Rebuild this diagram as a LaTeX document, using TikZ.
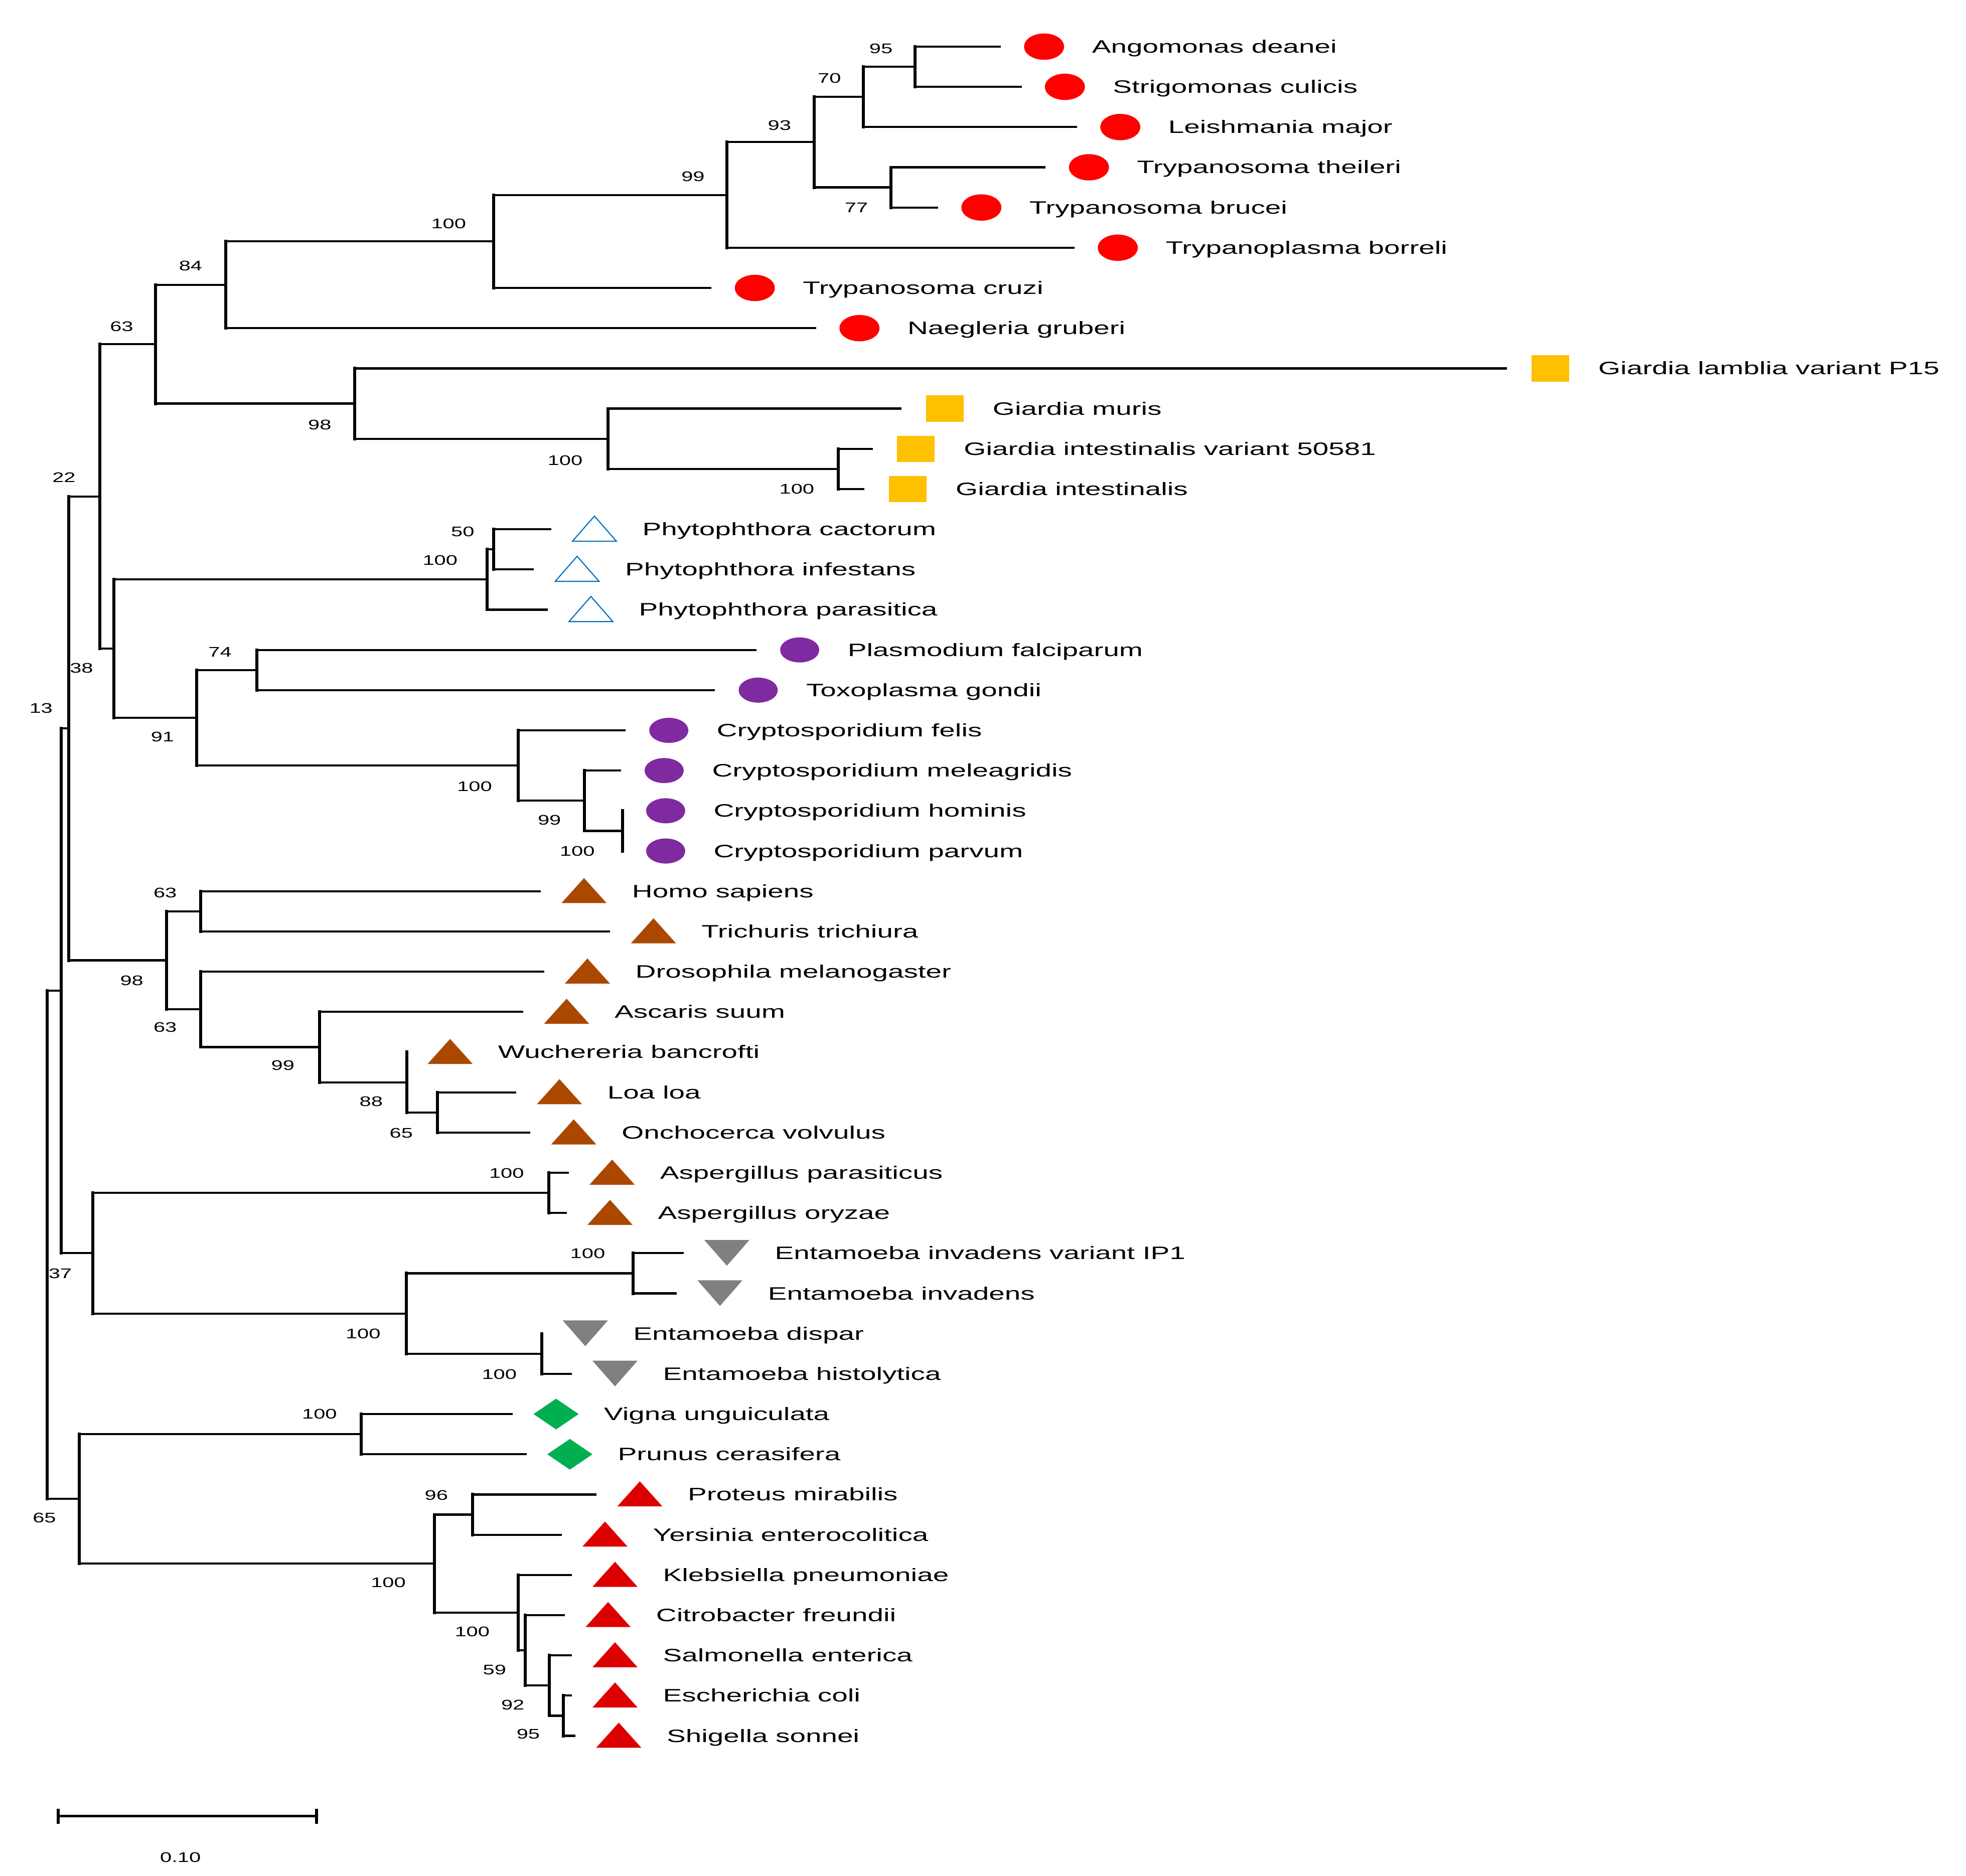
\documentclass[tikz,border=0pt]{standalone}
\usepackage{fontspec}
\setmainfont{Liberation Sans}[FakeStretch=1.58]
\newfontfamily\bsfont{Liberation Sans}[FakeStretch=1.5]
\definecolor{cRed}{HTML}{FF0000}
\definecolor{cYel}{HTML}{FFC000}
\definecolor{cBlu}{HTML}{0070C0}
\definecolor{cPur}{HTML}{7F2AA0}
\definecolor{cBrn}{HTML}{AA4800}
\definecolor{cGry}{HTML}{808080}
\definecolor{cGrn}{HTML}{00B050}
\definecolor{cBac}{HTML}{DD0000}
\tikzset{
 hb/.style={line width=0.42mm, line cap=butt},
 vb/.style={line width=0.6mm, line cap=rect},
 lab/.style={anchor=base west, inner sep=0pt, font=\fontsize{10.2}{12}\selectfont},
 bs/.style={inner sep=0pt, font=\bsfont\fontsize{7.9}{9}\selectfont},
 redc/.pic={\fill[cRed] (0,0) ellipse [x radius=4mm, y radius=2.625mm];},
 purc/.pic={\fill[cPur] (0,0) ellipse [x radius=3.9mm, y radius=2.5mm];},
 yelsq/.pic={\fill[cYel] (-15,-10.5) rectangle (15,10.5);},
 otri/.pic={\draw[cBlu, line width=0.22mm, line join=miter] (-17.5,9.5) -- (17.5,9.5) -- (0,-10.5) -- cycle;},
 brtri/.pic={\fill[cBrn] (-18,9.5) -- (18,9.5) -- (0,-10.5) -- cycle;},
 rdtri/.pic={\fill[cBac] (-18,9.5) -- (18,9.5) -- (0,-10.5) -- cycle;},
 gytri/.pic={\fill[cGry] (-18,-10.5) -- (18,-10.5) -- (0,10) -- cycle;},
 grdia/.pic={\fill[cGrn] (-18,0) -- (0,-12.25) -- (18,0) -- (0,12.25) -- cycle;},
}
\newcommand\leaf[4]{%
 \coordinate (t#1) at (#2,{37.2+32.08*#1});
 \pic at ([xshift=8.625mm]t#1) {#3};
 \node[lab] (l#1) at ([xshift=18.125mm,yshift=-1.25mm]t#1) {#4};}
\newcommand\brn[2]{\draw[vb] (#1) -- (#1|-#2); \draw[hb] (#1|-#2) -- (#2);}
\begin{document}
\begin{tikzpicture}[x=0.25mm,y=-0.25mm]
\useasboundingbox (0,0) rectangle (1568,1496);
% leaves
\leaf{0}{798.2}{redc}{Angomonas deanei}
\leaf{1}{814.8}{redc}{Strigomonas culicis}
\leaf{2}{859}{redc}{Leishmania major}
\leaf{3}{834}{redc}{Trypanosoma theileri}
\leaf{4}{748.2}{redc}{Trypanosoma brucei}
\leaf{5}{857}{redc}{Trypanoplasma borreli}
\leaf{6}{567.5}{redc}{Trypanosoma cruzi}
\leaf{7}{651}{redc}{Naegleria gruberi}
\leaf{8}{1202}{yelsq}{Giardia lamblia variant P15}
\leaf{9}{719}{yelsq}{Giardia muris}
\leaf{10}{696}{yelsq}{Giardia intestinalis variant 50581}
\leaf{11}{689.5}{yelsq}{Giardia intestinalis}
\leaf{12}{439.6}{otri}{Phytophthora cactorum}
\leaf{13}{425.8}{otri}{Phytophthora infestans}
\leaf{14}{436.8}{otri}{Phytophthora parasitica}
\leaf{15}{603.3}{purc}{Plasmodium falciparum}
\leaf{16}{570.2}{purc}{Toxoplasma gondii}
\leaf{17}{498.9}{purc}{Cryptosporidium felis}
\leaf{18}{495.2}{purc}{Cryptosporidium meleagridis}
\leaf{19}{496.4}{purc}{Cryptosporidium hominis}
\leaf{20}{496.4}{purc}{Cryptosporidium parvum}
\leaf{21}{431.3}{brtri}{Homo sapiens}
\leaf{22}{486.7}{brtri}{Trichuris trichiura}
\leaf{23}{434}{brtri}{Drosophila melanogaster}
\leaf{24}{417.4}{brtri}{Ascaris suum}
\leaf{25}{324.5}{brtri}{Wuchereria bancrofti}
\leaf{26}{411.7}{brtri}{Loa loa}
\leaf{27}{423.1}{brtri}{Onchocerca volvulus}
\leaf{28}{453.7}{brtri}{Aspergillus parasiticus}
\leaf{29}{452}{brtri}{Aspergillus oryzae}
\leaf{30}{545.2}{gytri}{Entamoeba invadens variant IP1}
\leaf{31}{539.7}{gytri}{Entamoeba invadens}
\leaf{32}{432.3}{gytri}{Entamoeba dispar}
\leaf{33}{456}{gytri}{Entamoeba histolytica}
\leaf{34}{409}{grdia}{Vigna unguiculata}
\leaf{35}{420}{grdia}{Prunus cerasifera}
\leaf{36}{475.8}{rdtri}{Proteus mirabilis}
\leaf{37}{448}{rdtri}{Yersinia enterocolitica}
\leaf{38}{456}{rdtri}{Klebsiella pneumoniae}
\leaf{39}{450.5}{rdtri}{Citrobacter freundii}
\leaf{40}{456}{rdtri}{Salmonella enterica}
\leaf{41}{456}{rdtri}{Escherichia coli}
\leaf{42}{459}{rdtri}{Shigella sonnei}
% internal nodes
\coordinate (n95) at (729.8,53.24);
\coordinate (n70) at (688.4,77.3);
\coordinate (n77) at (710.7,149.48);
\coordinate (n93) at (649.4,113.39);
\coordinate (n99a) at (579.8,155.5);
\coordinate (n100a) at (393.5,192.59);
\coordinate (n84) at (180,227.18);
\coordinate (n100g2) at (668.7,374.04);
\coordinate (n100g1) at (484.9,349.98);
\coordinate (n98g) at (282.7,321.91);
\coordinate (n63a) at (124,274.55);
\coordinate (n50) at (393.5,438.2);
\coordinate (n100p) at (388.4,462.26);
\coordinate (n74) at (204.7,534.44);
\coordinate (n100c3) at (496.4,662.76);
\coordinate (n99c) at (466.1,638.7);
\coordinate (n100c) at (413.4,610.63);
\coordinate (n91) at (157,572.54);
\coordinate (n38) at (90.8,517.4);
\coordinate (n22) at (79.6,395.98);
\coordinate (n63h) at (160,726.92);
\coordinate (n65o) at (348.7,887.32);
\coordinate (n88) at (324.5,863.26);
\coordinate (n99n) at (255,835.19);
\coordinate (n63d) at (160,805.12);
\coordinate (n98m) at (132.7,766.02);
\coordinate (ntop) at (54.7,581.0);
\coordinate (n100asp) at (437.9,951.48);
\coordinate (n100e1) at (504.8,1015.64);
\coordinate (n100e2) at (432.3,1079.8);
\coordinate (n100e) at (324.1,1047.72);
\coordinate (n37) at (74,999.6);
\coordinate (n13) at (49,790.3);
\coordinate (n100v) at (288,1143.96);
\coordinate (n96) at (376.7,1208.12);
\coordinate (n95b) at (449.5,1368.52);
\coordinate (n92) at (438.3,1344.46);
\coordinate (n59) at (418.9,1316.39);
\coordinate (n100b2) at (413.2,1286.32);
\coordinate (n100b) at (346.5,1247.22);
\coordinate (n65) at (63.3,1195.59);
\coordinate (root) at (37.8,992.95);
% connectors
\brn{n95}{t0} \brn{n95}{t1}
\brn{n70}{n95} \brn{n70}{t2}
\brn{n77}{t3} \brn{n77}{t4}
\brn{n93}{n70} \brn{n93}{n77}
\brn{n99a}{n93} \brn{n99a}{t5}
\brn{n100a}{n99a} \brn{n100a}{t6}
\brn{n84}{n100a} \brn{n84}{t7}
\brn{n100g2}{t10} \brn{n100g2}{t11}
\brn{n100g1}{t9} \brn{n100g1}{n100g2}
\brn{n98g}{t8} \brn{n98g}{n100g1}
\brn{n63a}{n84} \brn{n63a}{n98g}
\brn{n50}{t12} \brn{n50}{t13}
\brn{n100p}{n50} \brn{n100p}{t14}
\brn{n74}{t15} \brn{n74}{t16}
\brn{n100c3}{t19} \brn{n100c3}{t20}
\brn{n99c}{t18} \brn{n99c}{n100c3}
\brn{n100c}{t17} \brn{n100c}{n99c}
\brn{n91}{n74} \brn{n91}{n100c}
\brn{n38}{n100p} \brn{n38}{n91}
\brn{n22}{n63a} \brn{n22}{n38}
\brn{n63h}{t21} \brn{n63h}{t22}
\brn{n65o}{t26} \brn{n65o}{t27}
\brn{n88}{t25} \brn{n88}{n65o}
\brn{n99n}{t24} \brn{n99n}{n88}
\brn{n63d}{t23} \brn{n63d}{n99n}
\brn{n98m}{n63h} \brn{n98m}{n63d}
\brn{ntop}{n22} \brn{ntop}{n98m}
\brn{n100asp}{t28} \brn{n100asp}{t29}
\brn{n100e1}{t30} \brn{n100e1}{t31}
\brn{n100e2}{t32} \brn{n100e2}{t33}
\brn{n100e}{n100e1} \brn{n100e}{n100e2}
\brn{n37}{n100asp} \brn{n37}{n100e}
\brn{n13}{ntop} \brn{n13}{n37}
\brn{n100v}{t34} \brn{n100v}{t35}
\brn{n96}{t36} \brn{n96}{t37}
\brn{n95b}{t41} \brn{n95b}{t42}
\brn{n92}{t40} \brn{n92}{n95b}
\brn{n59}{t39} \brn{n59}{n92}
\brn{n100b2}{t38} \brn{n100b2}{n59}
\brn{n100b}{n96} \brn{n100b}{n100b2}
\brn{n65}{n100v} \brn{n65}{n100b}
\brn{root}{n13} \brn{root}{n65}
% bootstrap values
\node[bs] (b95) at (702.6,38.6) {95};
\node[bs] (b70) at (661.5,62.4) {70};
\node[bs] (b93) at (621.7,99.9) {93};
\node[bs] (b99a) at (552.7,140.9) {99};
\node[bs] (b77) at (683,165.6) {77};
\node[bs] (b100a) at (357.8,178.6) {100};
\node[bs] (b84) at (152,212) {84};
\node[bs] (b63a) at (97,260.5) {63};
\node[bs] (b98g) at (255,339) {98};
\node[bs] (b100g1) at (450.7,367.4) {100};
\node[bs] (b100g2) at (635.5,390) {100};
\node[bs] (b22) at (51,381) {22};
\node[bs] (b50) at (369,424) {50};
\node[bs] (b100p) at (351,447) {100};
\node[bs] (b74) at (175.5,520.2) {74};
\node[bs] (b38) at (65,533) {38};
\node[bs] (b13) at (32.7,564.9) {13};
\node[bs] (b91) at (129.6,587.9) {91};
\node[bs] (b100c) at (378.5,627.4) {100};
\node[bs] (b99c) at (438.2,654) {99};
\node[bs] (b100c3) at (460.4,678.8) {100};
\node[bs] (b63h) at (131.7,712.3) {63};
\node[bs] (b98m) at (105.1,782) {98};
\node[bs] (b63d) at (131.7,819.4) {63};
\node[bs] (b99n) at (225.6,849.6) {99};
\node[bs] (b88) at (296,878.6) {88};
\node[bs] (b65o) at (320,904) {65};
\node[bs] (b100asp) at (404,936) {100};
\node[bs] (b37) at (48,1015.8) {37};
\node[bs] (b100e1) at (468.7,999.8) {100};
\node[bs] (b100e) at (289.6,1064) {100};
\node[bs] (b100e2) at (398.2,1096.1) {100};
\node[bs] (b100v) at (254.8,1128) {100};
\node[bs] (b65) at (35.4,1210.5) {65};
\node[bs] (b96) at (348,1192.5) {96};
\node[bs] (b100b) at (309.7,1262.1) {100};
\node[bs] (b100b2) at (376.6,1301.4) {100};
\node[bs] (b59) at (394.4,1331.8) {59};
\node[bs] (b92) at (409,1360) {92};
\node[bs] (b95b) at (421.3,1383) {95};
% scale bar
\coordinate (sbL) at (46.5,1448.6);
\coordinate (sbR) at (252.3,1448.6);
\draw[hb] (sbL) -- (sbR);
\draw[vb, line cap=butt] ([yshift=1.5mm]sbL) -- ([yshift=-1.5mm]sbL);
\draw[vb, line cap=butt] ([yshift=1.5mm]sbR) -- ([yshift=-1.5mm]sbR);
\node[bs] (sblab) at (143.9,1481.6) {0.10};
\end{tikzpicture}
\end{document}
